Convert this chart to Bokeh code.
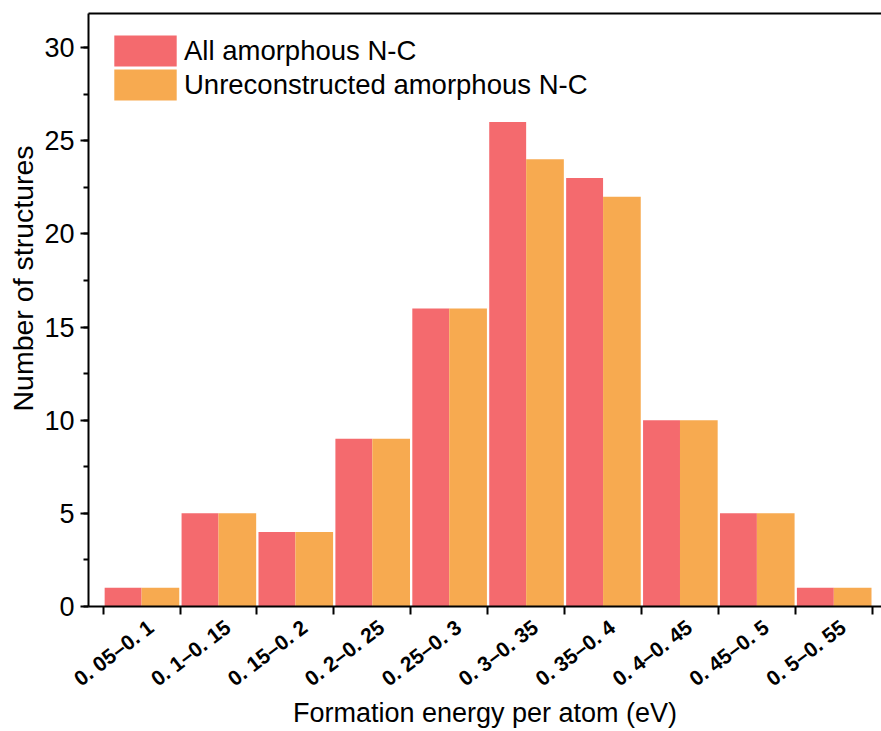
from bokeh.plotting import figure
from bokeh.models import (Range1d, LinearAxis, FixedTicker, SingleIntervalTicker,
                          Legend, LegendItem, Title)
from bokeh.embed import file_html
from bokeh.resources import INLINE

# Formation-energy bins (eV per atom) and structure counts per bin
categories = ["0. 05\u20130. 1", "0. 1\u20130. 15", "0. 15\u20130. 2", "0. 2\u20130. 25",
              "0. 25\u20130. 3", "0. 3\u20130. 35", "0. 35\u20130. 4", "0. 4\u20130. 45",
              "0. 45\u20130. 5", "0. 5\u20130. 55"]
all_counts = [1, 5, 4, 9, 16, 26, 23, 10, 5, 1]
unrecon_counts = [1, 5, 4, 9, 16, 24, 22, 10, 5, 1]

series_names = ["All amorphous N-C", "Unreconstructed amorphous N-C"]
RED = "#F46A6E"
ORANGE = "#F7AA50"
FONT = "Liberation Sans"

n = len(categories)
idx = list(range(n))

p = figure(width=881, height=731, output_backend="svg", toolbar_location=None,
           x_range=Range1d(-0.19, 10.12), y_range=Range1d(0, 31.83),
           x_axis_type=None, y_axis_type=None,
           min_border_left=88, min_border_right=0, min_border_top=13,
           min_border_bottom=124)
p.outline_line_color = None
p.xgrid.visible = False
p.ygrid.visible = False
p.background_fill_color = "white"
p.border_fill_color = "white"

r_all = p.vbar(x=[i + 0.26 for i in idx], top=all_counts, width=0.48, bottom=0,
               fill_color=RED, line_color=None)
r_unr = p.vbar(x=[i + 0.745 for i in idx], top=unrecon_counts, width=0.49, bottom=0,
               fill_color=ORANGE, line_color=None)

# bottom axis: slanted labels near each bin centre, tick marks on bin edges
label_pos = [i + 0.62 for i in idx]
xaxis = LinearAxis(ticker=FixedTicker(ticks=label_pos, minor_ticks=list(range(n + 1))))
xaxis.major_label_overrides = {x: c for x, c in zip(label_pos, categories)}
xaxis.major_tick_line_color = None
xaxis.major_tick_out = 0
xaxis.major_tick_in = 0
xaxis.minor_tick_out = 8
xaxis.minor_tick_in = 0
xaxis.minor_tick_line_width = 2
xaxis.minor_tick_line_color = "black"
xaxis.axis_line_width = 2
xaxis.major_label_orientation = 0.65
xaxis.major_label_standoff = 10
xaxis.major_label_text_font = FONT
xaxis.major_label_text_font_style = "bold"
xaxis.major_label_text_font_size = "21px"
xaxis.major_label_text_color = "black"
xaxis.axis_label = "Formation energy per atom (eV)"
xaxis.axis_label_text_font = FONT
xaxis.axis_label_text_font_style = "normal"
xaxis.axis_label_text_font_size = "27px"
xaxis.axis_label_text_color = "black"
xaxis.axis_label_standoff = -4
p.add_layout(xaxis, "below")

yaxis = LinearAxis(ticker=SingleIntervalTicker(interval=5, num_minor_ticks=2))
yaxis.axis_line_width = 2
yaxis.major_tick_out = 8
yaxis.major_tick_in = 0
yaxis.major_tick_line_width = 2
yaxis.minor_tick_out = 5
yaxis.minor_tick_in = 0
yaxis.minor_tick_line_width = 2
yaxis.major_label_standoff = 6
yaxis.major_label_text_font = FONT
yaxis.major_label_text_font_size = "27px"
yaxis.major_label_text_color = "black"
p.add_layout(yaxis, "left")

# y-axis caption, starting a little below the middle of the axis
ytitle = Title(text="Number of structures", align="left", offset=195,
               text_font=FONT, text_font_style="normal", text_font_size="28.5px",
               text_color="black", standoff=6)
p.add_layout(ytitle, "left")

# plain line along the top edge of the frame
top = LinearAxis(ticker=FixedTicker(ticks=[]))
top.axis_line_width = 2
top.major_tick_out = 0
top.major_tick_in = 0
top.minor_tick_out = 0
top.minor_tick_in = 0
top.major_label_text_font_size = "0px"
top.major_label_standoff = 0
p.add_layout(top, "above")

# one legend per series so the two rows can sit close together
def make_legend(name, renderer, loc):
    lg = Legend(items=[LegendItem(label=name, renderers=[renderer])], location=loc)
    lg.border_line_color = None
    lg.background_fill_alpha = 0
    lg.margin = 0
    lg.padding = 0
    lg.glyph_width = 78
    lg.glyph_height = 39
    lg.label_standoff = 0
    lg.label_text_font = FONT
    lg.label_text_font_size = "27.5px"
    lg.label_text_color = "black"
    lg.label_height = 39
    return lg

p.add_layout(make_legend(series_names[0], r_all, (18, 536)))
p.add_layout(make_legend(series_names[1], r_unr, (18, 502)))

open("out.html", "w").write(file_html(p, INLINE))
